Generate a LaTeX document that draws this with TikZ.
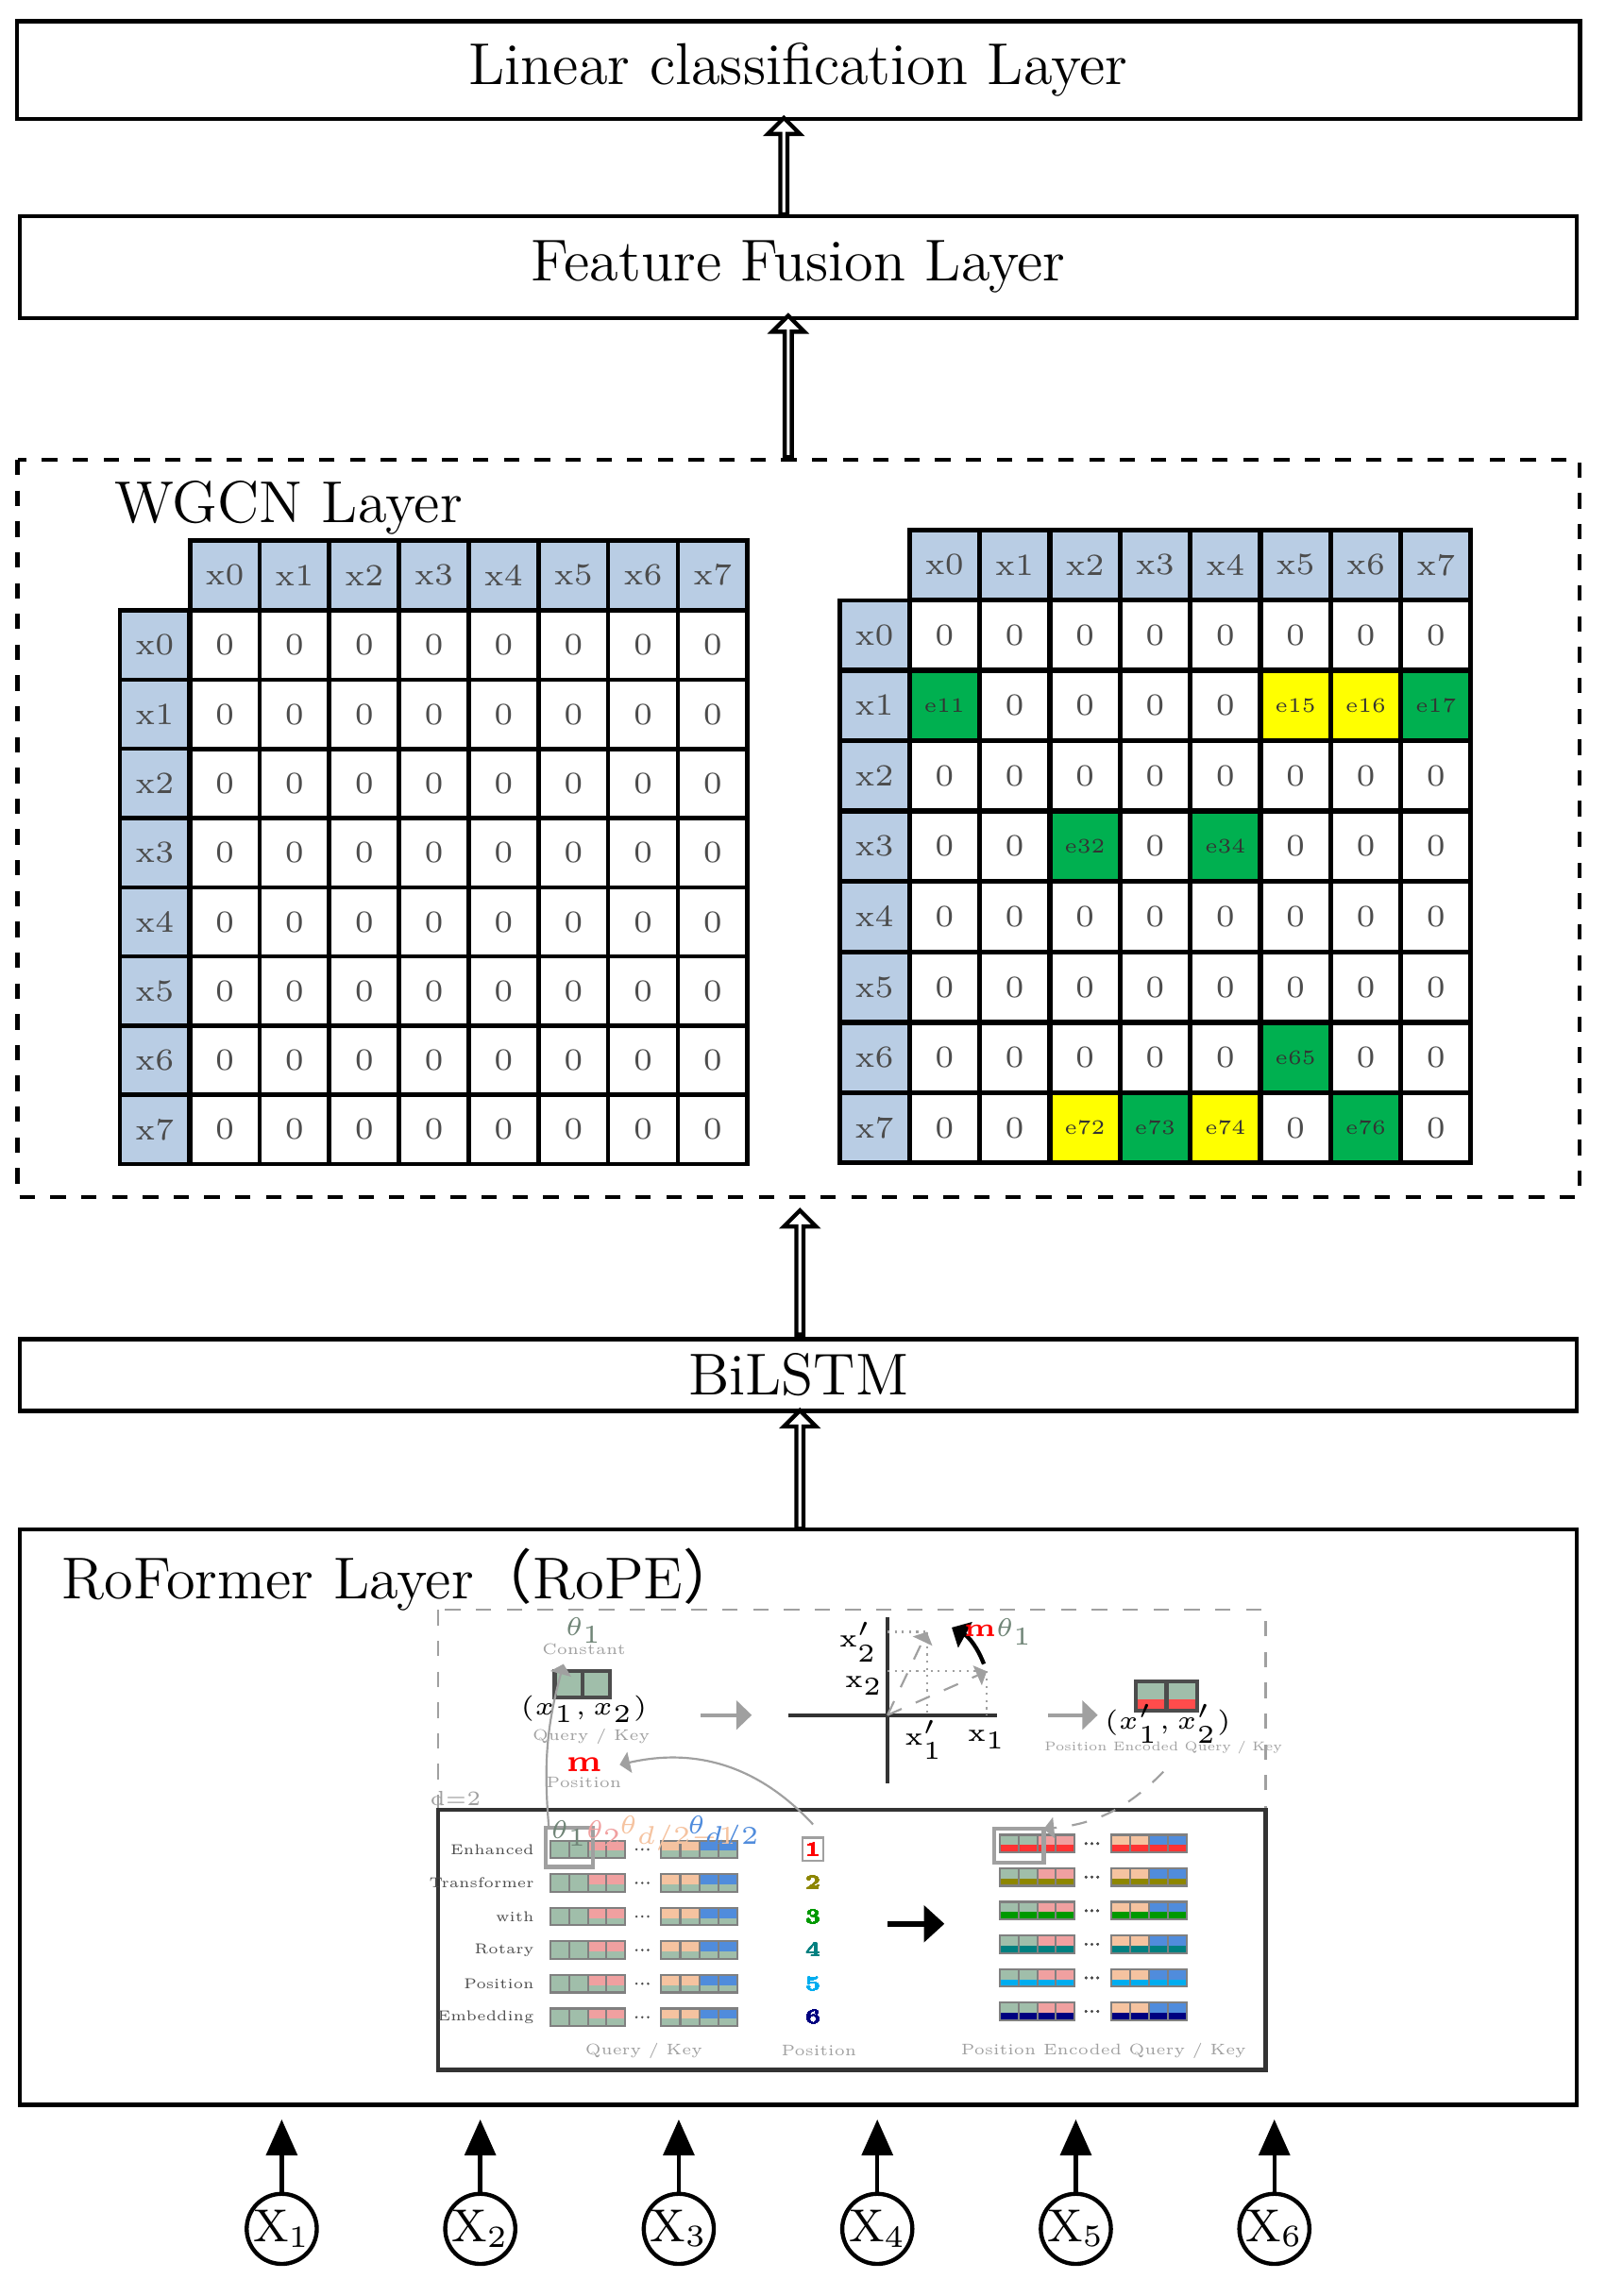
\documentclass[tikz,border=0pt]{standalone}
\usepackage{fontspec}
\newfontfamily\cjk{Noto Sans CJK SC}
\usetikzlibrary{positioning,shapes.arrows,arrows.meta,calc}

\definecolor{hdr}{RGB}{185,205,228}
\definecolor{egreen}{RGB}{0,176,80}
\definecolor{eyellow}{RGB}{255,255,0}
\definecolor{qgreen}{RGB}{160,190,170}
\definecolor{qred}{RGB}{240,160,160}
\definecolor{qorange}{RGB}{245,195,160}
\definecolor{qblue}{RGB}{80,140,220}
\definecolor{tgray}{RGB}{160,160,160}

\tikzset{
  layer/.style={draw, thick, inner sep=0pt, font=\fontsize{11.5}{13}\selectfont},
  hollow/.style={single arrow, draw, thick, fill=white, rotate=90, inner sep=0pt,
    minimum width=0.22cm, single arrow head extend=0.05cm},
  cell/.style={draw, thick, minimum width=0.475cm, minimum height=0.475cm, inner sep=0pt,
    font=\fontsize{6}{7}\selectfont, text=black!70},
  hcell/.style={cell, fill=hdr},
  ecell/.style={cell, font=\fontsize{4}{5}\selectfont, text=black!80},
  xin/.style={circle, draw, thick, minimum size=0.48cm, inner sep=0pt, font=\small},
  tiny/.style={font=\fontsize{3}{4}\selectfont, text=tgray},
  theta/.style={font=\fontsize{2}{2}\selectfont, inner sep=0pt},
}
% one query/key block: x, y, stripe colour
\newcommand{\qrow}[3]{%
  \fill[qgreen] (#1,#2-6) rectangle ++(26,12);
  \fill[qred] (#1+26,#2-6) rectangle ++(25,12);
  \fill[#3] (#1,#2+1) rectangle ++(51,5);
  \draw[gray] (#1,#2-6) rectangle ++(51,12);
  \foreach \k in {13,26,38} \draw[gray] (#1+\k,#2-6) -- ++(0,12);
  \foreach \d in {-4,0,4} \fill[black!70] (#1+63+\d,#2) circle (0.9);
  \fill[qorange] (#1+76,#2-6) rectangle ++(26,12);
  \fill[qblue] (#1+102,#2-6) rectangle ++(26,12);
  \fill[#3] (#1+76,#2+1) rectangle ++(52,5);
  \draw[gray] (#1+76,#2-6) rectangle ++(52,12);
  \foreach \k in {89,102,115} \draw[gray] (#1+\k,#2-6) -- ++(0,12);
}

\begin{document}
\begin{tikzpicture}[x=0.01cm, y=-0.01cm]
  \useasboundingbox (0,0) rectangle (1100,1573);

  % top layers
  \node[layer, minimum width=10.7cm, minimum height=0.67cm] (cls) at (547,48) {Linear classification Layer};
  \node[layer, minimum width=10.66cm, minimum height=0.7cm] (fus) at (547,183) {Feature Fusion Layer};
  \node[hollow, minimum height=0.66cm] (a1) at (537,115) {};
  \node[hollow, minimum height=0.97cm] (a2) at (540,266) {};

  % WGCN layer
  \draw[thick, dashed] (12,315) rectangle (1082,820);
  \node[anchor=west, font=\fontsize{11.5}{13}\selectfont] (wgcn) at (66,348) {WGCN Layer};

  % left matrix
  \foreach \i in {0,...,7} {
    \node[hcell] (lc\i) at (154+47.75*\i,394) {x\i};
    \node[hcell] (lr\i) at (106,442+47.4*\i) {x\i};
    \foreach \j in {0,...,7}
      \node[cell] (l\i\j) at (154+47.75*\j,442+47.4*\i) {0};
  }

  % right matrix
  \foreach \i in {0,...,7} {
    \node[hcell] (rc\i) at (647+48.1*\i,387) {x\i};
    \node[hcell] (rr\i) at (599,435+48.25*\i) {x\i};
    \foreach \j in {0,...,7}
      \node[cell] (r\i\j) at (647+48.1*\j,435+48.25*\i) {0};
  }
  \foreach \i/\j/\c/\t in {1/0/egreen/11,1/5/eyellow/15,1/6/eyellow/16,1/7/egreen/17,3/2/egreen/32,
                           3/4/egreen/34,6/5/egreen/65,7/2/eyellow/72,7/3/egreen/73,7/4/eyellow/74,7/6/egreen/76}
    \node[ecell, fill=\c] (e\t) at (647+48.1*\j,435+48.25*\i) {e\t};

  % BiLSTM
  \node[hollow, minimum height=0.85cm] (a3) at (548,873) {};
  \node[layer, minimum width=10.66cm, minimum height=0.49cm] (lstm) at (547,942) {BiLSTM};
  \node[hollow, minimum height=0.81cm] (a4) at (548,1008) {};

  % RoFormer layer
  \node[layer, minimum width=10.66cm, minimum height=3.94cm] (rof) at (547,1245) {};
  \node[anchor=west, font=\fontsize{11.5}{13}\selectfont] (roft) at (30,1082) {RoFormer Layer{\cjk（}RoPE{\cjk）}};

  % inner RoPE sketch
  \draw[tgray, dashed] (300,1103) rectangle (867,1240);
  \draw[thick, black!80] (300,1240) rectangle (867,1418);
  \node[font=\fontsize{5}{5}\selectfont, text=qgreen!70!black] (th) at (400,1117) {$\theta_1$};
  \node[tiny] at (400,1130) {Constant};
  \fill[qgreen] (380,1145) rectangle (418,1163);
  \draw[black!70, thick] (380,1145) rectangle (418,1163) (399,1145) -- (399,1163);
  \node[font=\fontsize{3.5}{4}\selectfont] at (400,1171) {$(x_1,x_2)$};
  \node[tiny] at (405,1190) {Query / Key};
  \draw[tgray, thick, -{Triangle[length=3pt]}] (480,1175) -- (515,1175);
  \draw[thick, black!80] (540,1175) -- (683,1175) (608,1108) -- (608,1222);
  \draw[tgray, densely dotted] (608,1118) -- (635,1118) (608,1145) -- (676,1145) (676,1145) -- (676,1175)
    (635,1118) -- (635,1175);
  \draw[tgray, dashed, -{Triangle[length=2pt]}] (608,1175) -- (635,1118);
  \draw[tgray, dashed, -{Triangle[length=2pt]}] (608,1175) -- (676,1145);
  \draw[thick, -{Triangle[length=3pt]}] (674,1140) to[bend right=20] (652,1115);
  \node[font=\fontsize{5}{5}\selectfont] at (588,1125) {x$'_2$};
  \node[font=\fontsize{5}{5}\selectfont] at (592,1155) {x$_2$};
  \node[font=\fontsize{5}{5}\selectfont] at (633,1192) {x$'_1$};
  \node[font=\fontsize{5}{5}\selectfont] at (676,1192) {x$_1$};
  \node[font=\fontsize{5}{5}\selectfont] at (684,1118) {\textcolor{red}{\textbf{m}}\textcolor{qgreen!70!black}{$\theta_1$}};
  \draw[tgray, thick, -{Triangle[length=3pt]}] (718,1175) -- (752,1175);
  \fill[qgreen] (778,1152) rectangle (820,1164);
  \fill[red!70] (778,1164) rectangle (820,1172);
  \draw[black!70, thick] (778,1152) rectangle (820,1172) (799,1152) -- (799,1172);
  \node[font=\fontsize{3.5}{4}\selectfont] at (800,1181) {$(x'_1,x'_2)$};
  \node[tiny, font=\fontsize{2.5}{3}\selectfont] (pe) at (797,1197) {Position Encoded Query / Key};
  \node[font=\fontsize{6}{6}\selectfont\bfseries, text=red] (m) at (400,1209) {m};
  \node[tiny] at (400,1221) {Position};
  \node[font=\fontsize{4}{5}\selectfont, text=tgray] at (312,1232) {d=2};

  % rows
  \foreach \w [count=\r] in {Enhanced,Transformer,with,Rotary,Position,Embedding}
    \node[font=\fontsize{2.8}{3}\selectfont, text=black!70, anchor=east, inner sep=1pt] (w\r) at (370,1244+23*\r) {\w};
  \foreach \c [count=\r] in {qgreen,qgreen,qgreen,qgreen,qgreen,qgreen}
    \qrow{377}{1244+23*\r}{\c}
  \foreach \c [count=\r] in {red!80,olive,green!60!black,teal,cyan,blue!50!black}
    \qrow{685}{1240+23*\r}{\c}
  \foreach \c [count=\r] in {red,olive,green!60!black,teal,cyan,blue!50!black}
    \node[font=\fontsize{4}{4}\selectfont\bfseries, text=\c] (p\r) at (557,1244+23*\r) {\r};
  \draw[tgray] (550,1259) rectangle (564,1275);
  \draw[tgray, thick] (374,1252) rectangle (406,1279);
  \draw[tgray, thick] (681,1253) rectangle (715,1276);
  \node[theta, text=qgreen!70!black] at (390,1256) {$\theta_1$};
  \node[theta, text=qred] at (414,1256) {$\theta_2$};
  \node[theta, text=qorange] at (465,1256) {$\theta_{d/2-1}$};
  \node[theta, text=qblue] at (496,1256) {$\theta_{d/2}$};
  \draw[very thick, -{Triangle[length=4pt]}] (608,1318) -- (647,1318);
  \node[tiny] at (441,1405) {Query / Key};
  \node[tiny] at (561,1405) {Position};
  \node[tiny] at (756,1405) {Position Encoded Query / Key};
  \draw[tgray, -{Triangle[length=2pt]}] (376,1252) to[bend left=10] (386,1140);
  \draw[tgray, -{Triangle[length=2pt]}] (p1.north) to[bend right=30] (m.east);
  \draw[tgray, dashed, -{Triangle[length=2pt]}] (pe.south) to[bend left=20] (715,1253);

  % inputs
  \foreach \i [count=\k] in {193,329,465,601,737,873} {
    \node[xin] (x\k) at (\i,1527) {X\textsubscript{\k}};
    \draw[thick, -{Triangle[length=7pt,width=6pt]}] (x\k.north) -- (\i,1452);
  }
\end{tikzpicture}
\end{document}
